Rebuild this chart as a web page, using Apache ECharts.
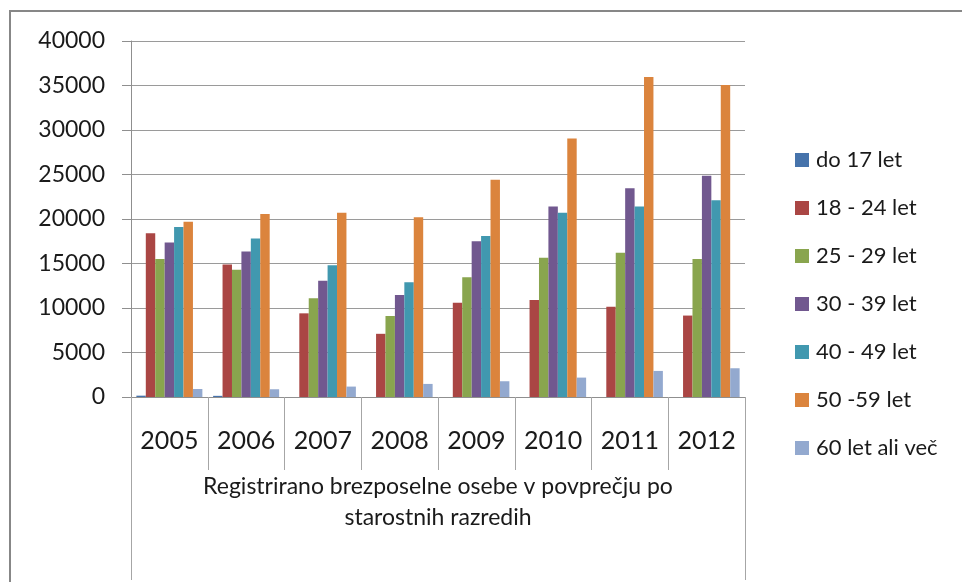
<!DOCTYPE html>
<html lang="sl">
<head>
	<meta charset="UTF-8">
	<title>Registrirano brezposelne osebe</title>
	<style>
		html, body { margin: 0; padding: 0; background: #fff; }
		#container { width: 962px; height: 582px; }
	</style>
</head>
<body>
	<div id="container"></div>

	<script src="https://cdn.jsdelivr.net/npm/echarts@6/dist/echarts.min.js"></script>
	<script>
        // podatki, odčitani s slike
        var years = ['2005', '2006', '2007', '2008', '2009', '2010', '2011', '2012'];
        var groupLabel = 'Registrirano brezposelne osebe v povprečju po\nstarostnih razredih';
        var yTicks = [0, 5000, 10000, 15000, 20000, 25000, 30000, 35000, 40000];

        var seriesNames = ['do 17 let', '18 - 24 let', '25 - 29 let', '30 - 39 let', '40 - 49 let', '50 -59 let', '60 let ali več'];
        var do17   = [150, 130, 0, 0, 0, 0, 0, 0];
        var s18_24 = [18400, 14900, 9400, 7100, 10600, 10900, 10150, 9150];
        var s25_29 = [15500, 14300, 11100, 9100, 13450, 15650, 16200, 15500];
        var s30_39 = [17350, 16350, 13050, 11450, 17500, 21400, 23450, 24850];
        var s40_49 = [19100, 17800, 14800, 12900, 18100, 20700, 21400, 22100];
        var s50_59 = [19700, 20550, 20700, 20200, 24400, 29050, 35950, 35050];
        var s60    = [900, 870, 1170, 1470, 1770, 2180, 2930, 3230];

        var values = [do17, s18_24, s25_29, s30_39, s40_49, s50_59, s60];
        var colors = ['#4673AB', '#AA4644', '#89A54E', '#71588F', '#4198AF', '#DB843D', '#93A9CF'];

        var font = 'Lato, "Open Sans", sans-serif';
        var gray = '#8f8f8f';

        var series = [];
        for (var i = 0; i < seriesNames.length; i++) {
            series.push({
                name: seriesNames[i],
                type: 'bar',
                xAxisIndex: 0,
                data: values[i],
                barGap: '0%',
                barCategoryGap: '14%',
                itemStyle: { color: colors[i] }
            });
        }

        var option = {
            animation: false,
            textStyle: { fontFamily: font },
            grid: { left: 131, right: 217, top: 41, bottom: 185, containLabel: false },
            legend: {
                orient: 'vertical',
                left: 790,
                top: 144,
                itemWidth: 14,
                itemHeight: 14,
                itemGap: 26,
                icon: 'rect',
                data: seriesNames,
                textStyle: { fontSize: 22, lineHeight: 22, color: '#1a1a1a', fontFamily: font, padding: [0, 0, 0, 2] }
            },
            xAxis: [{
                type: 'category',
                data: years,
                position: 'bottom',
                axisLine: { show: true, lineStyle: { color: gray, width: 1 } },
                axisTick: { show: true, interval: 0, length: 73, lineStyle: { color: '#a6a6a6' } },
                axisLabel: { interval: 0, fontSize: 25, color: '#1a1a1a', margin: 31, fontFamily: font },
                splitLine: { show: false }
            }, {
                type: 'category',
                data: [groupLabel],
                position: 'bottom',
                axisLine: { show: false },
                axisTick: { show: true, length: 183, lineStyle: { color: '#a6a6a6' } },
                axisLabel: { fontSize: 23, lineHeight: 31, color: '#1a1a1a', margin: 74, fontFamily: font },
                splitLine: { show: false }
            }],
            yAxis: {
                type: 'value',
                min: yTicks[0],
                max: yTicks[yTicks.length - 1],
                interval: yTicks[1] - yTicks[0],
                axisLine: { show: true, lineStyle: { color: gray } },
                axisTick: { show: true, length: 9, lineStyle: { color: gray } },
                axisLabel: {
                    fontSize: 23, color: '#1a1a1a', margin: 26, fontFamily: font,
                    formatter: function (v) { return String(v); }
                },
                splitLine: { show: true, lineStyle: { color: '#9a9a9a', width: 1 } }
            },
            graphic: [{
                type: 'rect',
                silent: true,
                shape: { x: 10, y: 11, width: 1000, height: 1000 },
                style: { fill: 'none', stroke: '#878787', lineWidth: 2 }
            }],
            series: series
        };

        var myChart = echarts.init(document.getElementById('container'));
        myChart.setOption(option);
    </script>
</body>
</html>
